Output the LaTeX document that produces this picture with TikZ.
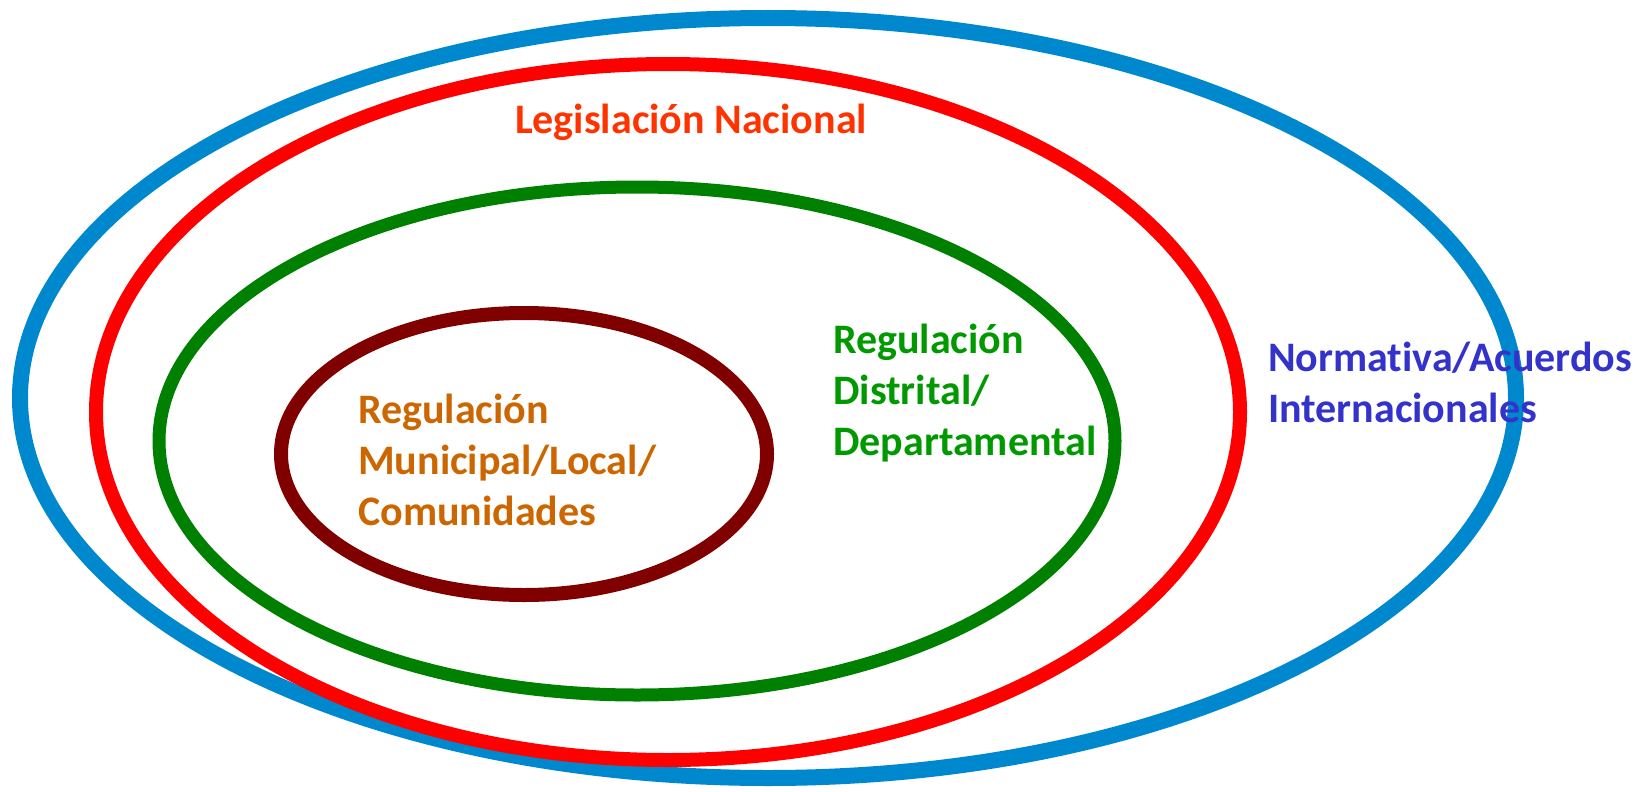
\documentclass[tikz,border=0pt]{standalone}
\usepackage{fontspec}
\setmainfont{Carlito}[Ligatures=NoCommon]
\definecolor{anillo1}{HTML}{0088CF}
\definecolor{anillo2}{HTML}{FF0000}
\definecolor{anillo3}{HTML}{008000}
\definecolor{anillo4}{HTML}{800000}
\definecolor{texto1}{HTML}{3333CC}
\definecolor{texto2}{HTML}{FF3300}
\definecolor{texto3}{HTML}{009900}
\definecolor{texto4}{HTML}{CC6600}
\tikzset{
  nivel/.style={font=\fontsize{42}{51}\selectfont\bfseries,inner sep=0pt,align=left,anchor=base west}
}
\begin{document}
\begin{tikzpicture}[x=1pt,y=-1pt]
   \useasboundingbox (0,0) rectangle (1641,792);
   % Anillos
   \draw[anillo1,line width=16pt] (768,398) ellipse (748 and 380);
   \draw[anillo2,line width=14pt] (668,412) ellipse (572 and 348);
   \draw[anillo3,line width=13pt] (637,441) ellipse (478 and 254);
   \draw[anillo4,line width=14pt] (524,454) ellipse (243 and 141);
   % Etiquetas (base = ultima linea)
   \node[nivel,texto2,anchor=base] (nacional) at (691,133) {Legislación Nacional};
   \node[nivel,texto3] (distrital) at (833,455) {Regulación\\Distrital/\\Departamental};
   \node[nivel,texto4] (municipal) at (358,525) {Regulación\\Municipal/Local/\\Comunidades};
   \node[nivel,texto1] (internacional) at (1268,422) {Normativa/Acuerdos\\Internacionales};
\end{tikzpicture}
\end{document}
